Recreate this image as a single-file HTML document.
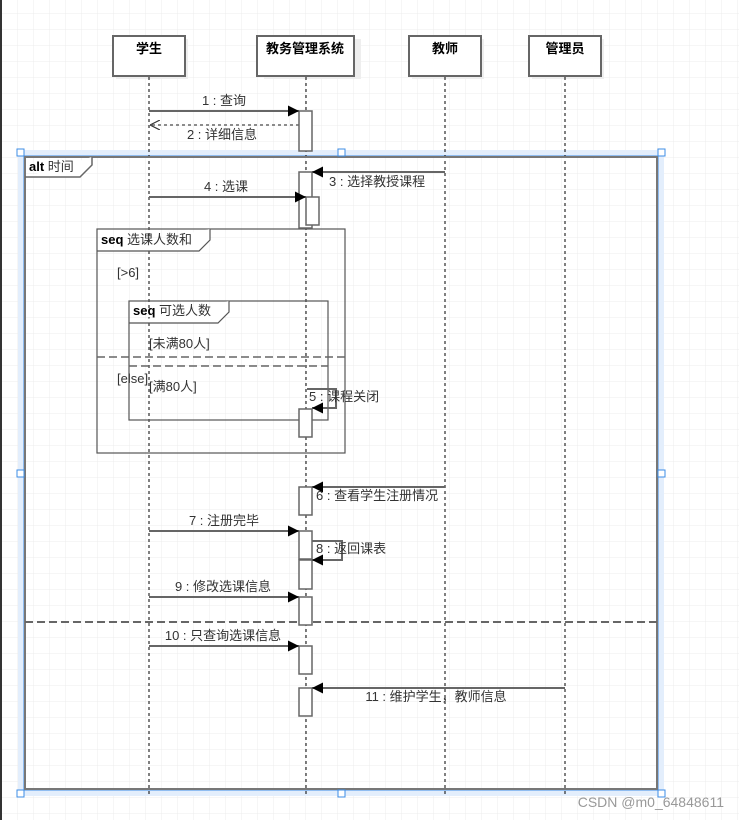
<!DOCTYPE html>
<html><head><meta charset="utf-8"><style>
html,body{margin:0;padding:0;background:#fff}
svg{display:block}
text{font-family:"Liberation Sans","Noto Sans CJK SC",sans-serif;font-size:13px;fill:#333}
.b{font-weight:bold;fill:#000}
</style></head><body>
<svg width="739" height="820" viewBox="0 0 739 820" xmlns="http://www.w3.org/2000/svg">
<defs>
<pattern id="g" x="1" y="13" width="16" height="16" patternUnits="userSpaceOnUse">
<path d="M0 0H16M0 0V16" stroke="#ececec" stroke-width="1" fill="none"/>
</pattern>
<marker id="a" viewBox="0 0 10 10" refX="10" refY="5" markerWidth="11" markerHeight="11" orient="auto" markerUnits="userSpaceOnUse"><path d="M0 0L10 5L0 10z" fill="#000"/></marker>
<marker id="o" viewBox="0 0 10 10" refX="10" refY="5" markerWidth="10" markerHeight="10" orient="auto" markerUnits="userSpaceOnUse"><path d="M0 0L10 5L0 10" fill="none" stroke="#333" stroke-width="1.2"/></marker>
</defs>
<rect width="739" height="820" fill="url(#g)"/>
<rect x="0" y="0" width="2" height="820" fill="#333"/>
<!-- selection band -->
<rect x="21" y="153" width="640" height="640" fill="none" stroke="#e3eefc" stroke-width="6"/>
<rect x="24" y="156" width="634" height="634" fill="none" stroke="#3c8ce6" stroke-width="1"/>
<!-- participants -->
<g fill="#fff" stroke="#666" stroke-width="2">
<rect x="116" y="39" width="72" height="40" fill="#eee" stroke="none"/>
<rect x="113" y="36" width="72" height="40"/>
<rect x="264" y="39" width="97" height="40" fill="#eee" stroke="none"/>
<rect x="257" y="36" width="97" height="40"/>
<rect x="412" y="39" width="72" height="40" fill="#eee" stroke="none"/>
<rect x="409" y="36" width="72" height="40"/>
<rect x="532" y="39" width="72" height="40" fill="#eee" stroke="none"/>
<rect x="529" y="36" width="72" height="40"/>
</g>
<text x="149" y="53" text-anchor="middle" class="b">学生</text>
<text x="305" y="53" text-anchor="middle" class="b">教务管理系统</text>
<text x="445" y="53" text-anchor="middle" class="b">教师</text>
<text x="565" y="53" text-anchor="middle" class="b">管理员</text>
<!-- lifelines -->
<g stroke="#000" stroke-width="1" stroke-dasharray="3,3">
<line x1="149" y1="77" x2="149" y2="795"/>
<line x1="306" y1="77" x2="306" y2="795"/>
<line x1="445" y1="77" x2="445" y2="795"/>
<line x1="565" y1="77" x2="565" y2="795"/>
</g>
<!-- alt frame -->
<rect x="25" y="157" width="632" height="632" fill="none" stroke="#777" stroke-width="2"/>
<path d="M25 177H80L92 165V157" fill="#fff" stroke="#666" stroke-width="1.5"/>
<text x="29" y="171"><tspan class="b">alt</tspan> 时间</text>
<line x1="25" y1="622" x2="657" y2="622" stroke="#666" stroke-width="2" stroke-dasharray="8,4"/>
<!-- seq frames -->
<rect x="97" y="229" width="248" height="224" fill="none" stroke="#555" stroke-width="1.2"/>
<path d="M97 251H199L210 240V229" fill="#fff" stroke="#555" stroke-width="1.2"/>
<text x="101" y="244"><tspan class="b">seq</tspan>  选课人数和</text>
<text x="117" y="277" fill="#444">[&gt;6]</text>
<rect x="129" y="301" width="199" height="119" fill="none" stroke="#555" stroke-width="1.2"/>
<path d="M129 323H218L229 312V301" fill="#fff" stroke="#555" stroke-width="1.2"/>
<text x="133" y="315"><tspan class="b">seq</tspan>  可选人数</text>
<text x="149" y="348">[未满80人]</text>
<line x1="97" y1="357" x2="345" y2="357" stroke="#666" stroke-width="1.5" stroke-dasharray="8,4"/>
<line x1="129" y1="366" x2="328" y2="366" stroke="#666" stroke-width="1.5" stroke-dasharray="8,4"/>
<text x="117" y="383">[else]</text>
<text x="149" y="391">[满80人]</text>
<!-- activations -->
<g fill="#fff" stroke="#666" stroke-width="1.5">
<rect x="299" y="111" width="13" height="40"/>
<rect x="299" y="172" width="13" height="56"/>
<rect x="306" y="197" width="13" height="28"/>
<rect x="299" y="409" width="13" height="28"/>
<rect x="299" y="487" width="13" height="28"/>
<rect x="299" y="531" width="13" height="28"/>
<rect x="299" y="560" width="13" height="29"/>
<rect x="299" y="597" width="13" height="28"/>
<rect x="299" y="646" width="13" height="28"/>
<rect x="299" y="688" width="13" height="28"/>
</g>
<!-- messages -->
<g stroke="#666" stroke-width="2" fill="none">
<line x1="149" y1="111" x2="299" y2="111" marker-end="url(#a)"/>
<line x1="299" y1="125" x2="150" y2="125" stroke-dasharray="3,3" stroke-width="1.5" marker-end="url(#o)"/>
<line x1="445" y1="172" x2="312" y2="172" marker-end="url(#a)"/>
<line x1="149" y1="197" x2="306" y2="197" marker-end="url(#a)"/>
<path d="M307 389H336V408H312" marker-end="url(#a)"/>
<line x1="445" y1="487" x2="312" y2="487" marker-end="url(#a)"/>
<line x1="149" y1="531" x2="299" y2="531" marker-end="url(#a)"/>
<path d="M312 541H342V560H312" marker-end="url(#a)"/>
<line x1="149" y1="597" x2="299" y2="597" marker-end="url(#a)"/>
<line x1="149" y1="646" x2="299" y2="646" marker-end="url(#a)"/>
<line x1="565" y1="688" x2="312" y2="688" marker-end="url(#a)"/>
</g>
<text x="224" y="105" text-anchor="middle">1 : 查询</text>
<text x="222" y="139" text-anchor="middle">2 : 详细信息</text>
<text x="329" y="186">3 : 选择教授课程</text>
<text x="226" y="191" text-anchor="middle">4 : 选课</text>
<text x="309" y="401">5 : 课程关闭</text>
<text x="316" y="500">6 : 查看学生注册情况</text>
<text x="224" y="525" text-anchor="middle">7 : 注册完毕</text>
<text x="316" y="553">8 : 返回课表</text>
<text x="223" y="591" text-anchor="middle">9 : 修改选课信息</text>
<text x="223" y="640" text-anchor="middle">10 : 只查询选课信息</text>
<text x="436" y="701" text-anchor="middle">11 : 维护学生，教师信息</text>
<!-- handles -->
<g fill="#fff" stroke="#3c8ce6" stroke-width="1">
<rect x="17" y="149" width="7" height="7"/>
<rect x="338" y="149" width="7" height="7"/>
<rect x="658" y="149" width="7" height="7"/>
<rect x="17" y="470" width="7" height="7"/>
<rect x="658" y="470" width="7" height="7"/>
<rect x="17" y="790" width="7" height="7"/>
<rect x="338" y="790" width="7" height="7"/>
<rect x="658" y="790" width="7" height="7"/>
</g>
<text x="724" y="807" text-anchor="end" style="font-size:14px;fill:#999">CSDN @m0_64848611</text>
</svg>
</body></html>
